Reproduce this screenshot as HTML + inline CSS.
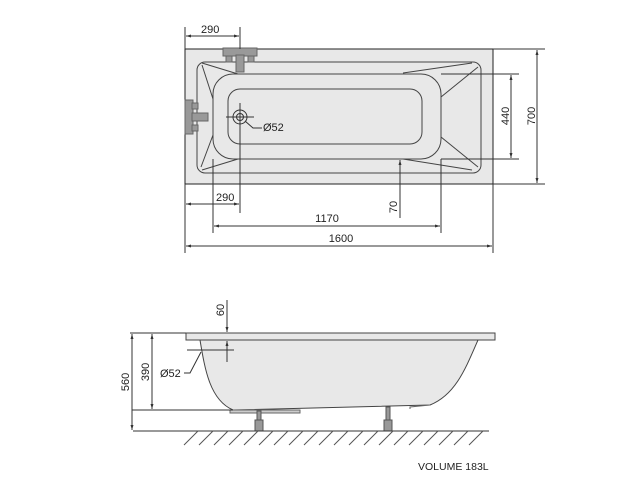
<!DOCTYPE html>
<html><head><meta charset="utf-8"><style>
html,body{margin:0;padding:0;background:#fff;}
svg{display:block;}
text{font-family:"Liberation Sans",sans-serif;font-size:11px;fill:#222;}
</style></head><body>
<svg width="640" height="503" viewBox="0 0 640 503" xmlns="http://www.w3.org/2000/svg">
<defs>
<marker id="a" viewBox="0 0 10 10" refX="10" refY="5" markerWidth="5" markerHeight="5" orient="auto-start-reverse"><path d="M0,2 L10,5 L0,8z" fill="#333"/></marker>
</defs>
<g stroke="#333" stroke-width="1" fill="none">
<!-- top view -->
<rect x="185" y="49" width="308" height="135" fill="#e8e8e8" stroke="#222"/>
<rect x="197" y="62" width="284" height="111" rx="8" stroke="#444"/>
<rect x="213" y="74" width="228" height="85" rx="20" stroke="#444"/>
<rect x="228" y="89" width="194" height="55" rx="12" stroke="#444"/>
<path d="M202,63 L238,74 M202,65 L213,99 M213,135 L201,167 M238,159 L202,170 M472,63 L403,73 M478,67 L441,97 M441,137 L478,167 M403,159 L472,170" stroke="#444"/>
<circle cx="240" cy="117" r="7" fill="#e8e8e8"/>
<circle cx="240" cy="117" r="3.5"/>
<path d="M226,117 L254,117 M240,103 L240,131 M245,121 L253,128 L262,128"/>
<!-- faucets -->
<g fill="#999" stroke="#666">
<rect x="223" y="48" width="34" height="8"/>
<rect x="236" y="55" width="8" height="17"/>
<rect x="226" y="56" width="6" height="6"/>
<rect x="248" y="56" width="6" height="6"/>
<rect x="185" y="100" width="8" height="34"/>
<rect x="192" y="113" width="16" height="8"/>
<rect x="192" y="103" width="6" height="6"/>
<rect x="192" y="125" width="6" height="6"/>
</g>
<!-- dims top view -->
<path d="M185,27 L185,49 M240,27 L240,49"/>
<line x1="186" y1="36" x2="239" y2="36" marker-start="url(#a)" marker-end="url(#a)"/>
<path d="M441,74 L519,74 M441,159 L519,159 M493,49 L545,49 M493,184 L545,184"/>
<line x1="511" y1="75" x2="511" y2="158" marker-start="url(#a)" marker-end="url(#a)"/>
<line x1="537" y1="50" x2="537" y2="183" marker-start="url(#a)" marker-end="url(#a)"/>
<path d="M240,131 L240,213 M185,184 L185,253 M493,184 L493,253 M213,159 L213,233 M441,159 L441,233"/>
<line x1="186" y1="204" x2="239" y2="204" marker-start="url(#a)" marker-end="url(#a)"/>
<line x1="400" y1="218" x2="400" y2="160" marker-end="url(#a)"/>
<line x1="214" y1="226" x2="440" y2="226" marker-start="url(#a)" marker-end="url(#a)"/>
<line x1="186" y1="246" x2="492" y2="246" marker-start="url(#a)" marker-end="url(#a)"/>
<!-- side view -->
<path d="M200,340 C205,370 210,400 233,410 L430,405 C455,395 465,370 478,340 Z" fill="#e8e8e8" stroke="#444"/>
<rect x="186" y="333" width="309" height="7" fill="#e8e8e8" stroke="#444"/>
<rect x="230" y="410" width="70" height="3" fill="#ccc" stroke="#666"/>
<path d="M430,405 L410,407 L410,409" stroke="#666"/>
<g fill="#999" stroke="#555">
<rect x="257" y="411" width="4" height="10"/>
<rect x="255" y="420" width="8" height="11"/>
<rect x="386" y="407" width="4" height="13"/>
<rect x="384" y="420" width="8" height="11"/>
</g>
<path d="M130,333 L186,333 M132,410 L233,410 M133,431 L489,431"/>
<line x1="132" y1="334" x2="132" y2="430" marker-start="url(#a)" marker-end="url(#a)"/>
<line x1="152" y1="334" x2="152" y2="409" marker-start="url(#a)" marker-end="url(#a)"/>
<line x1="227" y1="300" x2="227" y2="332" marker-end="url(#a)"/>
<line x1="227" y1="362" x2="227" y2="341" marker-end="url(#a)"/>
<path d="M187,350 L234,350 M184,373 L190,373 L201,352"/>
<path d="M184,445 L198,431 M199,445 L213,431 M214,445 L228,431 M229,445 L243,431 M244,445 L258,431 M259,445 L273,431 M274,445 L288,431 M289,445 L303,431 M304,445 L318,431 M319,445 L333,431 M334,445 L348,431 M349,445 L363,431 M364,445 L378,431 M379,445 L393,431 M394,445 L408,431 M409,445 L423,431 M424,445 L438,431 M439,445 L453,431 M454,445 L468,431 M469,445 L483,431" stroke="#555"/>
</g>
<text x="201" y="33">290</text>
<text x="263" y="131">Ø52</text>
<text transform="translate(509,116) rotate(-90)" text-anchor="middle">440</text>
<text transform="translate(535,116) rotate(-90)" text-anchor="middle">700</text>
<text x="216" y="201">290</text>
<text transform="translate(397,207) rotate(-90)" text-anchor="middle">70</text>
<text x="327" y="222" text-anchor="middle">1170</text>
<text x="341" y="242" text-anchor="middle">1600</text>
<text transform="translate(224,310) rotate(-90)" text-anchor="middle">60</text>
<text x="160" y="377">Ø52</text>
<text transform="translate(129,382) rotate(-90)" text-anchor="middle">560</text>
<text transform="translate(149,372) rotate(-90)" text-anchor="middle">390</text>
<text x="418" y="470" style="font-size:10.5px">VOLUME 183L</text>
</svg>
</body></html>
